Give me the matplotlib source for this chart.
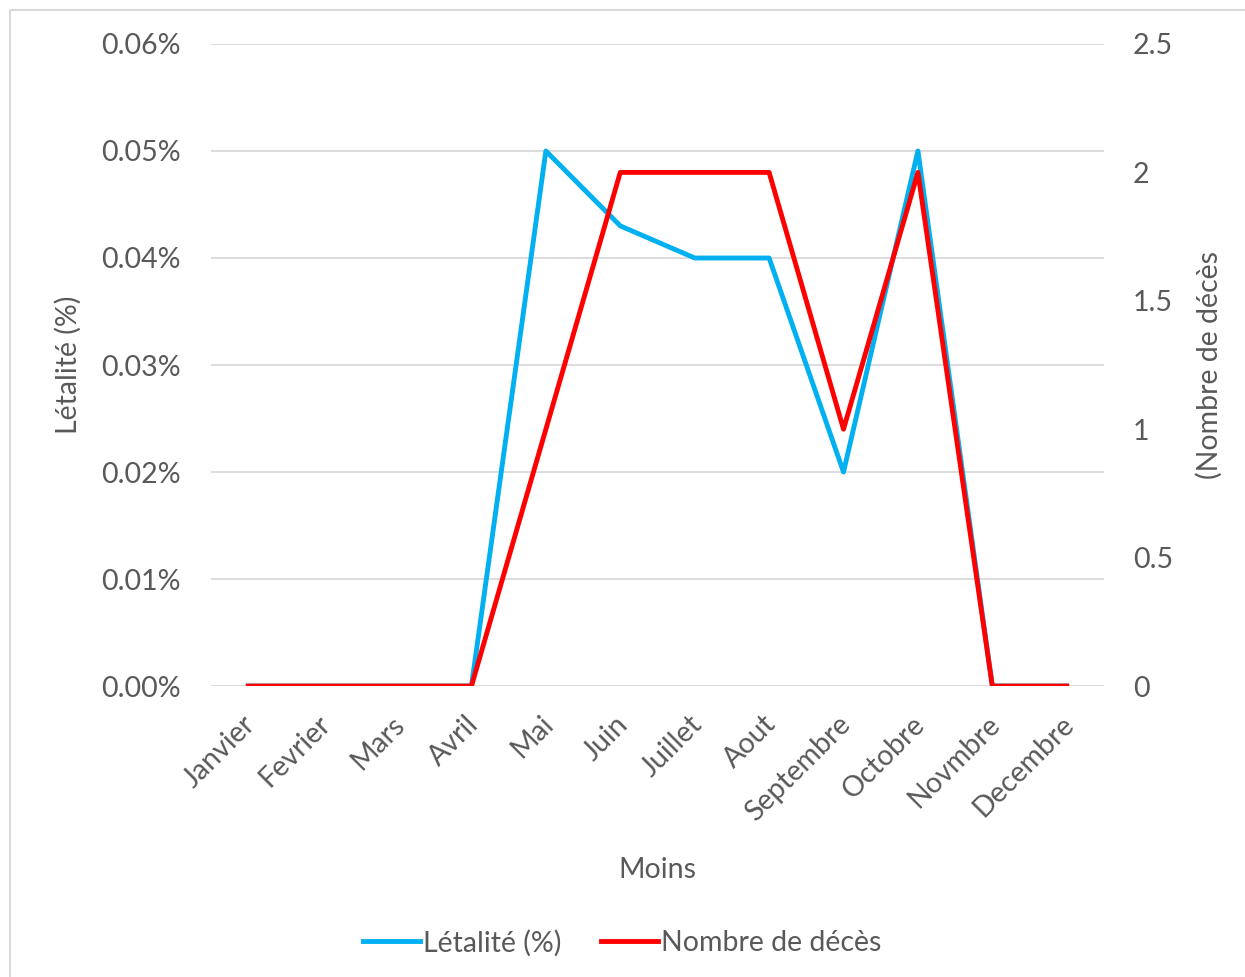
import numpy as np
import matplotlib.pyplot as plt
from matplotlib.patches import Rectangle
from matplotlib.ticker import FuncFormatter
from matplotlib.transforms import ScaledTranslation

# data
mois = ["Janvier", "Fevrier", "Mars", "Avril", "Mai", "Juin", "Juillet",
        "Aout", "Septembre", "Octobre", "Novmbre", "Decembre"]
letalite = [0, 0, 0, 0, 0.05, 0.043, 0.04, 0.04, 0.02, 0.05, 0, 0]  # en %
deces = [0, 0, 0, 0, 1, 2, 2, 2, 1, 2, 0, 0]

grey = "#595959"
fs = 20.5
plt.rcParams['font.family'] = ['Lato', 'DejaVu Sans']

fig = plt.figure(figsize=(12.45, 9.77), dpi=100)
ax = fig.add_axes([0.1695, 0.2978, 0.7172, 0.6572])
ax2 = ax.twinx()

x = np.arange(len(mois))
l1, = ax.plot(x, letalite, color="#00B0F0", lw=3.5, label="Létalité (%)", zorder=3)
l2, = ax2.plot(x, deces, color="#FF0000", lw=3.5, label="Nombre de décès", zorder=3)

ax.set_xlim(-0.5, len(mois) - 0.5)
ax.set_ylim(0, 0.06)
ax.set_yticks(np.arange(0, 0.061, 0.01))
ax.yaxis.set_major_formatter(FuncFormatter(lambda v, p: f"{v:.2f}%"))
ax2.set_ylim(0, 2.5)
ax2.set_yticks([0, 0.5, 1, 1.5, 2, 2.5])
ax2.set_yticklabels(["0", "0.5", "1", "1.5", "2", "2.5"])

ax.grid(axis="y", color="#D9D9D9", lw=1.3, zorder=0)
ax.set_axisbelow(True)
for a in (ax, ax2):
    for s in a.spines.values():
        s.set_visible(False)
    a.tick_params(length=0, labelsize=fs, colors=grey)
ax.tick_params(axis="y", pad=22)
ax2.tick_params(axis="y", pad=21)

ax.set_xticks(x)
ax.set_xticklabels(mois, rotation=45, ha="right", rotation_mode="anchor")
ax.tick_params(axis="x", pad=18)
shift = ScaledTranslation(-6 / 100, 0, fig.dpi_scale_trans)
for lbl in ax.get_xticklabels():
    lbl.set_transform(lbl.get_transform() + shift)

ax.set_xlabel("Moins", fontsize=fs, color=grey, labelpad=22)
ax.set_ylabel("Létalité (%)", fontsize=fs, color=grey, labelpad=14)
ax2.set_ylabel("(Nombre de décès", fontsize=fs, color=grey, labelpad=16)

fig.legend(handles=[l1, l2], loc="center", bbox_to_anchor=(0.5, 1 - 943 / 977),
           ncol=2, frameon=False, fontsize=fs, labelcolor=grey,
           handlelength=2.0, handletextpad=0.1, columnspacing=1.4)

fig.patches.append(Rectangle((10 / 1245, -0.01), 1.0, 1 - 10 / 977 + 0.01,
                             transform=fig.transFigure, fill=False,
                             edgecolor="#D9D9D9", lw=1.5, clip_on=False))

fig.savefig("out.png", dpi=100)
